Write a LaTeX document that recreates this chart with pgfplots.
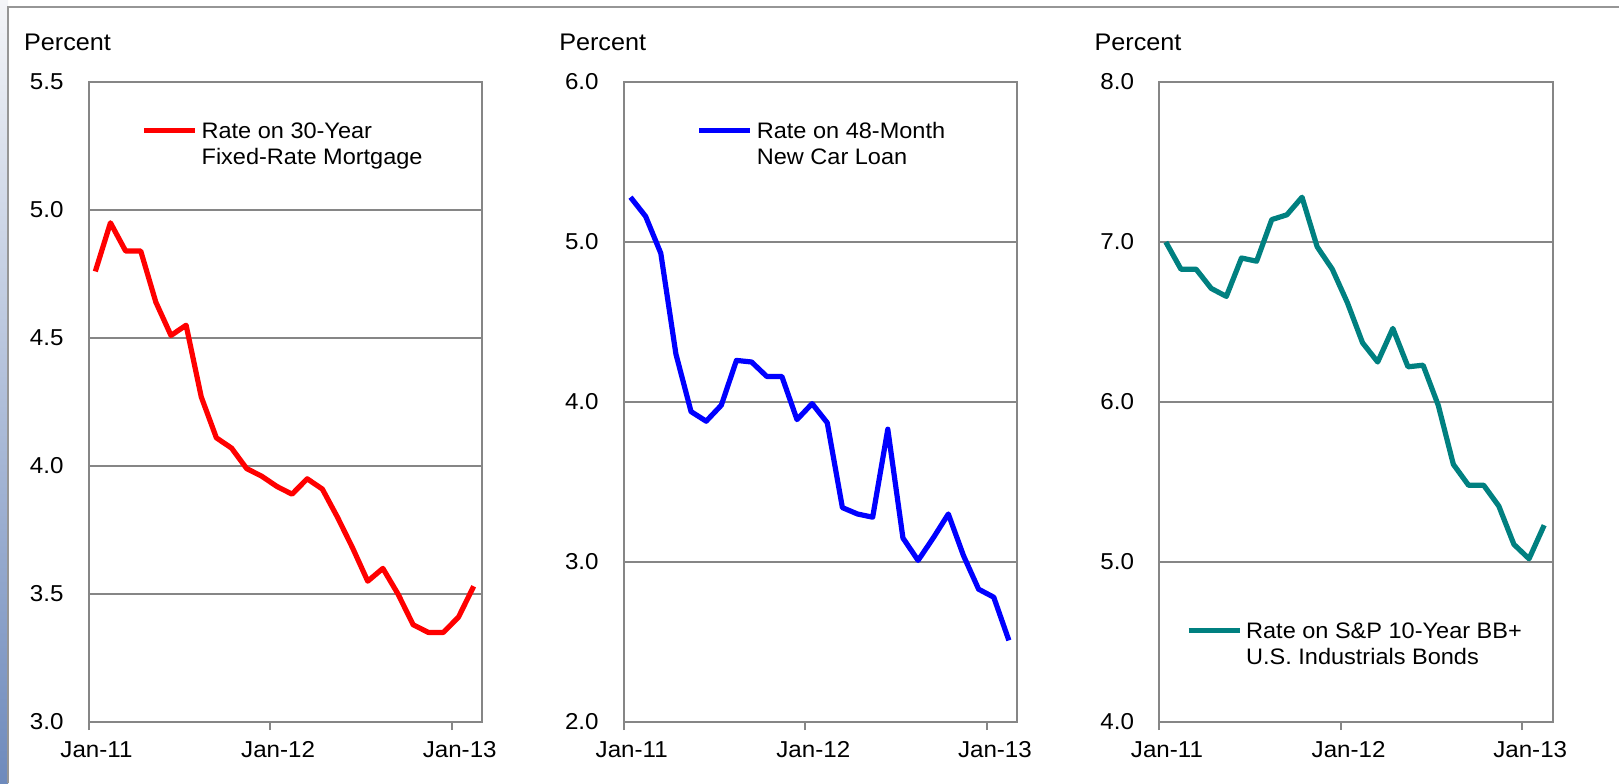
\documentclass[border=0pt]{standalone}
\usepackage{fontspec}
\setmainfont[FakeStretch=1.05]{Liberation Sans}
\usepackage{pgfplots}
\usepackage{pgfplotstable}
\pgfplotsset{compat=1.18}
\definecolor{gridgray}{RGB}{134,134,134}
\definecolor{tealline}{RGB}{0,128,128}
\definecolor{framegray}{RGB}{150,150,150}

\pgfplotstableread{
x y
0.45 4.76
1.45 4.95
2.45 4.84
3.45 4.84
4.45 4.64
5.45 4.51
6.45 4.55
7.45 4.27
8.45 4.11
9.45 4.07
10.45 3.99
11.45 3.96
12.45 3.92
13.45 3.89
14.45 3.95
15.45 3.91
16.45 3.80
17.45 3.68
18.45 3.55
19.45 3.60
20.45 3.50
21.45 3.38
22.45 3.35
23.45 3.35
24.45 3.41
25.45 3.53
}\mortgage

\pgfplotstableread{
x y
0.45 5.28
1.45 5.16
2.45 4.93
3.45 4.30
4.45 3.94
5.45 3.88
6.45 3.98
7.45 4.26
8.45 4.25
9.45 4.16
10.45 4.16
11.45 3.89
12.45 3.99
13.45 3.87
14.45 3.34
15.45 3.30
16.45 3.28
17.45 3.83
18.45 3.15
19.45 3.01
20.45 3.15
21.45 3.30
22.45 3.04
23.45 2.83
24.45 2.78
25.45 2.51
}\carloan

\pgfplotstableread{
x y
0.45 7.00
1.45 6.83
2.45 6.83
3.45 6.71
4.45 6.66
5.45 6.90
6.45 6.88
7.45 7.14
8.45 7.17
9.45 7.28
10.45 6.97
11.45 6.83
12.45 6.62
13.45 6.37
14.45 6.25
15.45 6.46
16.45 6.22
17.45 6.23
18.45 5.98
19.45 5.61
20.45 5.48
21.45 5.48
22.45 5.35
23.45 5.11
24.45 5.02
25.45 5.23
}\bonds

\pgfplotsset{
  panel/.style={
    anchor=south west,
    width=196.75pt, height=320pt, scale only axis,
    xmin=0, xmax=26,
    xtick={0,12,24}, xticklabels={Jan-11,Jan-12,Jan-13},
    xtick pos=bottom, ytick pos=left,
    ymajorgrids, grid style={gridgray, line width=0.75pt},
    axis line style={gridgray, line width=1pt},
    tick align=outside, major tick length=4pt,
    xtick style={gridgray, line width=1pt},
    ytick style={draw=none},
    tick label style={font=\fontsize{11.5}{13}\selectfont},
    y tick label style={/pgf/number format/fixed, /pgf/number format/fixed zerofill, /pgf/number format/precision=1, /pgf/number format/assume math mode=true},
    yticklabel style={xshift=-5pt},
    xticklabel style={xshift=4pt, yshift=-2.3pt},
    legend style={draw=none, fill=none, font=\fontsize{11.2}{13}\selectfont, inner sep=0pt, column sep=0pt},
    legend cell align=left,
    legend image code/.code={\draw[##1, line width=2.5pt] (0pt,0pt) -- (25.5pt,0pt);},
    every axis plot/.append style={line width=2.6pt, line join=round},
  }
}
\renewcommand{\arraystretch}{1}

\begin{document}
\begin{tikzpicture}
\useasboundingbox (0,0) rectangle (809.5pt,391.5pt);
\shade[top color={rgb,255:red,244;green,245;blue,248}, bottom color={rgb,255:red,110;green,138;blue,188}] (0,0) rectangle (4pt,391.5pt);
\draw[framegray, line width=1pt] (4pt,0) -- (4pt,388pt) -- (809.5pt,388pt);

\begin{axis}[panel, name=ax1, at={(44.25pt,30.5pt)}, ymin=3, ymax=5.5, ytick={3,3.5,4,4.5,5,5.5},
  legend style={at={(rel axis cs:0.134,0.947)}, anchor=north west}]
\addplot[red, no marks] table[x=x,y=y] {\mortgage};
\addlegendentry{\begin{tabular}[t]{@{}l@{}}Rate on 30-Year\\Fixed-Rate Mortgage\end{tabular}}
\end{axis}

\begin{axis}[panel, name=ax2, at={(311.85pt,30.5pt)}, ymin=2, ymax=6, ytick={2,3,4,5,6},
  legend style={at={(rel axis cs:0.185,0.947)}, anchor=north west}]
\addplot[blue, no marks] table[x=x,y=y] {\carloan};
\addlegendentry{\begin{tabular}[t]{@{}l@{}}Rate on 48-Month\\New Car Loan\end{tabular}}
\end{axis}

\begin{axis}[panel, name=ax3, at={(579.5pt,30.5pt)}, ymin=4, ymax=8, ytick={4,5,6,7,8},
  legend style={at={(rel axis cs:0.068,0.166)}, anchor=north west}]
\addplot[tealline, no marks] table[x=x,y=y] {\bonds};
\addlegendentry{\begin{tabular}[t]{@{}l@{}}Rate on S\&P 10-Year BB+\\U.S. Industrials Bonds\end{tabular}}
\end{axis}

\foreach \a in {ax1,ax2,ax3}{
  \node[font=\fontsize{12}{14}\selectfont] at ([xshift=-10.5pt,yshift=20pt]\a.north west) {Percent};
}
\end{tikzpicture}
\end{document}
